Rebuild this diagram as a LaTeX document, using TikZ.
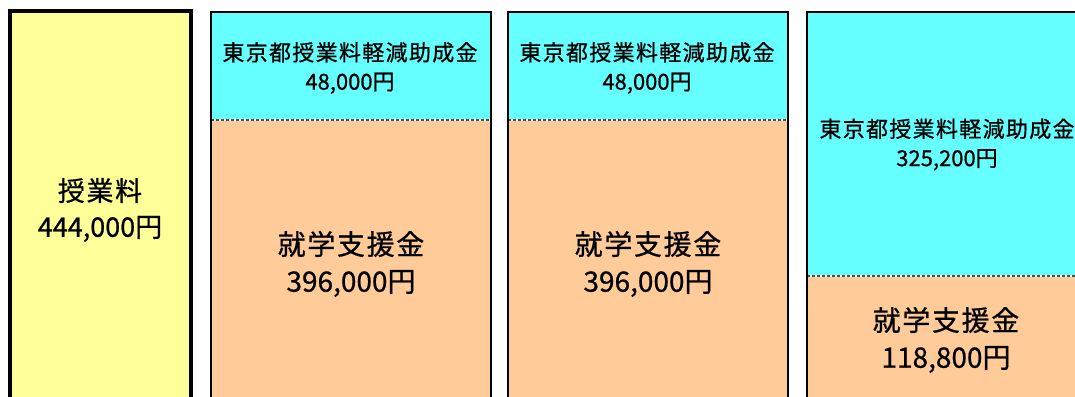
\documentclass[tikz,border=0pt]{standalone}
\usepackage{fontspec}
\setmainfont[FakeBold=0.7]{Noto Sans CJK JP}
\newfontfamily\jpls[LetterSpace=6,FakeBold=0.7]{Noto Sans CJK JP}
\definecolor{yelc}{HTML}{FFFF99}
\definecolor{cyac}{HTML}{66FFFF}
\definecolor{orac}{HTML}{FFCC99}
\tikzset{
  txt/.style={inner sep=0pt, align=center, text=black},
  small/.style={txt, font=\fontsize{22}{29}\selectfont},
  big/.style={txt, font=\fontsize{27}{36}\selectfont},
  huge/.style={txt, font=\fontsize{28}{37}\selectfont},
  frame/.style={draw=black, line width=2pt},
  sep/.style={line width=1.6pt}
}
\begin{document}
\begin{tikzpicture}[x=1pt,y=-1pt]
\useasboundingbox (0,0) rectangle (1075,396);
\clip (0,0) rectangle (1075,396);
\fill[white] (0,0) rectangle (1075,396);
% box 1
\draw[fill=yelc, line width=4pt] (10,11) rectangle (191,430);
\node[big] (t1) at (100,210) {{\jpls\fontsize{27}{36}\selectfont 授業料}\\444,000円};
% box 2 and 3
\foreach \l/\r/\n in {211/491/a, 508/788/b}{
  \fill[cyac] (\l,12) rectangle (\r,120);
  \fill[orac] (\l,120) rectangle (\r,430);
  \draw[sep, white] (\l,120) -- (\r,120);
  \draw[sep, black!70, dash pattern=on 3pt off 2pt] (\l,120) -- (\r,120);
  \draw[frame] (\l,12) rectangle (\r,430);
}
\node[small] (c2) at (350,68) {{\jpls\fontsize{22}{29}\selectfont 東京都授業料軽減助成金}\\48,000円};
\node[huge] (o2) at (351,264) {{\jpls\fontsize{28}{37}\selectfont 就学支援金}\\396,000円};
\node[small] (c3) at (647,68) {{\jpls\fontsize{22}{29}\selectfont 東京都授業料軽減助成金}\\48,000円};
\node[huge] (o3) at (648,264) {{\jpls\fontsize{28}{37}\selectfont 就学支援金}\\396,000円};
% box 4
\fill[cyac] (807,12) rectangle (1090,276);
\fill[orac] (807,276) rectangle (1090,430);
\draw[sep, white] (807,276) -- (1090,276);
\draw[sep, black!70, dash pattern=on 3pt off 2pt] (807,276) -- (1090,276);
\draw[frame] (807,12) rectangle (1090,430);
\node[small] (c4) at (947,144.5) {{\jpls\fontsize{22}{29}\selectfont 東京都授業料軽減助成金}\\325,200円};
\node[huge] (o4) at (946,340) {{\jpls\fontsize{28}{37}\selectfont 就学支援金}\\118,800円};
\end{tikzpicture}
\end{document}
